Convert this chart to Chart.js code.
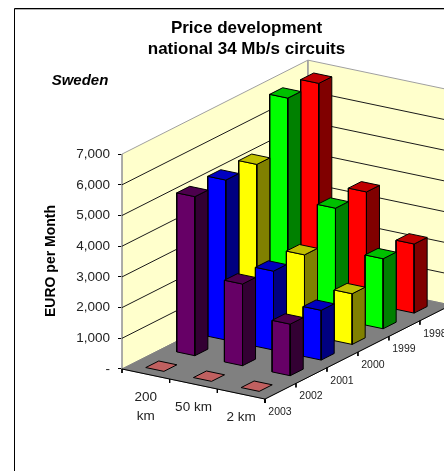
<!DOCTYPE html>
<html>
<head>
<meta charset="utf-8">
<style>
  html, body { margin: 0; padding: 0; background: #fff; overflow: hidden; }
  canvas { display: block; }
</style>
<script src="https://cdn.jsdelivr.net/npm/chart.js@4"></script>
</head>
<body>
<canvas id="priceChart" width="444" height="471"></canvas>
<script>
var categories = ['200 km', '50 km', '2 km'];
var years = ['2003', '2002', '2001', '2000', '1999', '1998'];
var yTicks = [0, 1000, 2000, 3000, 4000, 5000, 6000, 7000];

// one list per year, in the order of categories
var values2003 = [0, 0, 0];
var values2002 = [5180, 2660, 1680];
var values2001 = [5210, 2570, 1620];
var values2000 = [5210, 2590, 1650];
var values1999 = [6860, 3600, 2280];
var values1998 = [6830, 3620, 2250];
var seriesValues = [values2003, values2002, values2001, values2000, values1999, values1998];

var faceColors = ['#ff8080', '#660066', '#0000ff', '#ffff00', '#00ff00', '#ff0000'];
var sideColors = ['#804040', '#330033', '#000080', '#808000', '#008000', '#800000'];
var topColors = ['#c06060', '#4d004d', '#0000c0', '#c0c000', '#00c000', '#c00000'];

var font = 'Liberation Sans';

// oblique projection: c runs along the front edge, d runs back into the picture
var depthX = 0.65;
var depthY = 510;
var frontY = -326;
var barC = 0.19;
var barD = 0.21;

function pt(c, d, v) {
    return { x: c + d * depthX, y: v + c * frontY + d * depthY };
}

var datasets = [];

function shape(label, points, fill, stroke, width) {
    datasets.push({
        label: label,
        data: points,
        showLine: true,
        fill: fill ? 'shape' : false,
        backgroundColor: fill || 'transparent',
        borderColor: stroke,
        borderWidth: width === undefined ? 1 : width,
        pointRadius: 0,
        tension: 0,
        clip: false
    });
}

var topValue = yTicks[yTicks.length - 1];
var cCount = categories.length;
var dCount = years.length;

// walls and floor
shape('left wall', [pt(0, 0, 0), pt(0, dCount, 0), pt(0, dCount, topValue), pt(0, 0, topValue), pt(0, 0, 0)], '#ffffcc', '#a0a0a0');
shape('back wall', [pt(0, dCount, 0), pt(cCount, dCount, 0), pt(cCount, dCount, topValue), pt(0, dCount, topValue), pt(0, dCount, 0)], '#ffffcc', '#a0a0a0');
shape('floor', [pt(0, 0, 0), pt(cCount, 0, 0), pt(cCount, dCount, 0), pt(0, dCount, 0), pt(0, 0, 0)], '#808080', '#808080');

yTicks.forEach(function (v) {
    if (v > 0 && v < topValue) {
        shape('grid ' + v, [pt(0, 0, v), pt(0, dCount, v), pt(cCount, dCount, v)], null, '#1a1a1a');
    }
});

// front and right floor edges with their tick marks
shape('front edge', [pt(0, 0, 0), pt(cCount, 0, 0), pt(cCount, dCount, 0)], null, '#000000');
categories.concat(['']).forEach(function (name, c) {
    shape('c tick ' + c, [pt(c, 0, 0), pt(c, 0, -130)], null, '#000000');
});
years.concat(['']).forEach(function (name, d) {
    shape('d tick ' + d, [pt(cCount, d, 0), pt(cCount, d, -130)], null, '#000000');
});

// bars, painted from the far left to the near right
categories.forEach(function (name, c) {
    for (var d = dCount - 1; d >= 0; d--) {
        var v = seriesValues[d][c];
        var c0 = c + 0.5 - barC, c1 = c + 0.5 + barC;
        var d0 = d + 0.5 - barD, d1 = d + 0.5 + barD;
        var id = years[d] + ' ' + name;
        if (v > 0) {
            shape(id + ' front', [pt(c0, d0, 0), pt(c1, d0, 0), pt(c1, d0, v), pt(c0, d0, v), pt(c0, d0, 0)], faceColors[d], '#000000');
            shape(id + ' side', [pt(c1, d0, 0), pt(c1, d1, 0), pt(c1, d1, v), pt(c1, d0, v), pt(c1, d0, 0)], sideColors[d], '#000000');
        }
        shape(id + ' top', [pt(c0, d0, v), pt(c1, d0, v), pt(c1, d1, v), pt(c0, d1, v), pt(c0, d0, v)], topColors[d], '#000000');
    }
});

// first dataset is painted last by Chart.js, so flip the list
datasets.reverse();

var extraText = {
    id: 'extraText',
    beforeDraw: function (chart) {
        var ctx = chart.ctx;
        ctx.save();
        ctx.strokeStyle = '#000000';
        ctx.lineWidth = 1;
        ctx.beginPath();
        ctx.moveTo(14.5, 471);
        ctx.lineTo(14.5, 8.5);
        ctx.lineTo(444, 8.5);
        ctx.stroke();
        ctx.strokeStyle = '#b0b0b0';
        ctx.beginPath();
        ctx.moveTo(15, 9.5);
        ctx.lineTo(444, 9.5);
        ctx.stroke();
        ctx.restore();
    },
    afterDatasetsDraw: function (chart) {
        var ctx = chart.ctx;
        var xs = chart.scales.x;
        var ys = chart.scales.y;
        function px(p) {
            return { x: xs.getPixelForValue(p.x), y: ys.getPixelForValue(p.y) };
        }
        ctx.save();
        ctx.fillStyle = '#000000';
        ctx.textAlign = 'center';
        ctx.textBaseline = 'middle';

        ctx.font = 'italic bold 15px "' + font + '"';
        ctx.fillText('Sweden', 80, 81);

        ctx.save();
        ctx.translate(51, 261);
        ctx.rotate(-Math.PI / 2);
        ctx.font = 'bold 14px "' + font + '"';
        ctx.fillText('EURO per Month', 0, 0);
        ctx.restore();

        ctx.font = '13.5px "' + font + '"';
        ctx.fillStyle = '#222222';
        categories.forEach(function (name, c) {
            var p = px(pt(c + 0.5, 0, 0));
            if (name === '200 km') {
                ctx.fillText('200', p.x, p.y + 23);
                ctx.fillText('km', p.x, p.y + 42);
            } else {
                ctx.fillText(name, p.x, p.y + 23);
            }
        });

        ctx.font = '10.5px "' + font + '"';
        years.forEach(function (name, d) {
            var p = px(pt(cCount, d, 0));
            ctx.fillText(name, p.x + 15, p.y + 13);
        });
        ctx.restore();
    }
};

new Chart(document.getElementById('priceChart').getContext('2d'), {
    type: 'scatter',
    data: { datasets: datasets },
    plugins: [extraText],
    options: {
        responsive: false,
        animation: false,
        layout: { padding: { left: 49, right: 0, top: 0, bottom: 67 } },
        plugins: {
            legend: { display: false },
            tooltip: { enabled: false },
            title: {
                display: true,
                text: ['Price development', 'national 34 Mb/s circuits'],
                color: '#000000',
                font: { family: font, size: 17, weight: 'bold', lineHeight: 1.235 },
                padding: { top: 18, bottom: -2 }
            }
        },
        scales: {
            x: { type: 'linear', display: false, min: 0, max: 6.755 },
            y: {
                type: 'linear',
                min: -1140,
                max: 10130,
                afterBuildTicks: function (scale) {
                    scale.ticks = yTicks.map(function (v) { return { value: v }; });
                },
                afterFit: function (scale) {
                    scale.width = 73;
                },
                border: { display: false },
                grid: { drawOnChartArea: false, drawTicks: true, tickLength: 4, tickColor: '#000000' },
                ticks: {
                    autoSkip: false,
                    padding: 8,
                    color: '#222222',
                    font: { family: font, size: 13.5 },
                    callback: function (value) {
                        return value === 0 ? '-' : value.toLocaleString('en-US');
                    }
                }
            }
        }
    }
});
</script>
</body>
</html>
